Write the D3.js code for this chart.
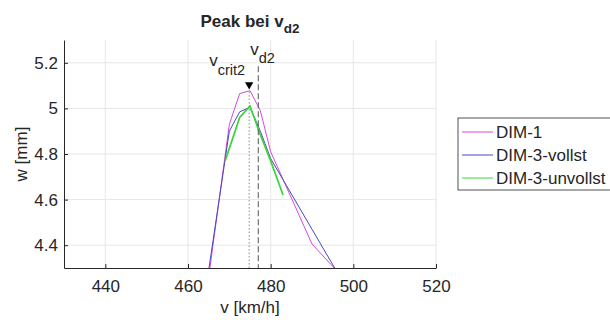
<!DOCTYPE html>
<html>
<head>
<meta charset="utf-8">
<script src="https://cdn.jsdelivr.net/npm/d3@7"></script>
<style>
  body { margin: 0; background: #fff; overflow: hidden; }
  text { font-family: "Liberation Sans", Arial, sans-serif; fill: #262626; }
</style>
</head>
<body>
<div id="chart"></div>
<script>
// data
var vDim1 = [465, 470, 472.5, 475, 477.5, 480, 490, 500];
var wDim1 = [4.26, 4.93, 5.065, 5.078, 4.99, 4.81, 4.405, 4.21];
var vDim3v = [465, 470, 472.5, 475, 477.5, 480, 490, 500];
var wDim3v = [4.29, 4.90, 4.985, 5.005, 4.90, 4.78, 4.47, 4.16];
var vDim3u = [469, 472.5, 475, 477.5, 480, 483];
var wDim3u = [4.77, 4.96, 5.01, 4.885, 4.77, 4.62];
var seriesNames = ["DIM-1", "DIM-3-vollst", "DIM-3-unvollst"];
var seriesColors = ["#dc46dc", "#4848c4", "#38d438"];
var xTicks = [440, 460, 480, 500, 520];
var yTicks = [4.4, 4.6, 4.8, 5, 5.2];
var vCrit2 = 474.8, wCrit2 = 5.078;
var vD2 = 477, wD2Top = 5.185;

var margin = { top: 40, right: 174, bottom: 52, left: 64 },
    width = 610 - margin.left - margin.right,
    height = 320 - margin.top - margin.bottom;

var x = d3.scaleLinear().domain([430, 520]).range([0, width]);
var y = d3.scaleLinear().domain([4.3, 5.3]).range([height, 0]);

var svg = d3.select("#chart").append("svg")
    .attr("width", 610)
    .attr("height", 320);

var g = svg.append("g")
    .attr("transform", "translate(" + margin.left + "," + margin.top + ")");

g.append("clipPath").attr("id", "clip")
  .append("rect").attr("width", width).attr("height", height);

// grid
g.selectAll(".gx").data(xTicks).enter().append("line")
    .attr("x1", d => x(d)).attr("x2", d => x(d))
    .attr("y1", 0).attr("y2", height)
    .attr("stroke", "#e6e6e6");
g.selectAll(".gy").data(yTicks).enter().append("line")
    .attr("x1", 0).attr("x2", width)
    .attr("y1", d => y(d)).attr("y2", d => y(d))
    .attr("stroke", "#e6e6e6");

// axes
var xAxis = g.append("g")
    .attr("transform", "translate(0," + height + ")")
    .call(d3.axisBottom(x).tickValues(xTicks).tickSizeInner(-4).tickSizeOuter(0).tickPadding(12));
var yAxis = g.append("g")
    .call(d3.axisLeft(y).tickValues(yTicks).tickFormat(d3.format("")).tickSizeInner(-4).tickSizeOuter(0).tickPadding(6));
[xAxis, yAxis].forEach(function (a) {
  a.selectAll("path,line").attr("stroke", "#262626");
  a.selectAll("text").style("font-size", "17px").attr("fill", "#262626");
});

// curves
var line = d3.line().x(d => x(d[0])).y(d => y(d[1]));
var series = [
  { v: vDim1, w: wDim1, width: 1 },
  { v: vDim3v, w: wDim3v, width: 1 },
  { v: vDim3u, w: wDim3u, width: 1.7 }
];
var plot = g.append("g").attr("clip-path", "url(#clip)");
series.forEach(function (s, i) {
  plot.append("path")
      .datum(d3.zip(s.v, s.w))
      .attr("fill", "none")
      .attr("stroke", seriesColors[i])
      .attr("stroke-width", s.width)
      .attr("d", line);
});

// marker lines
g.append("line")
    .attr("x1", x(vCrit2)).attr("x2", x(vCrit2))
    .attr("y1", y(wCrit2) + 1).attr("y2", height)
    .attr("stroke", "#888").attr("stroke-dasharray", "1.5,2");
g.append("line")
    .attr("x1", x(vD2)).attr("x2", x(vD2))
    .attr("y1", y(wD2Top)).attr("y2", height)
    .attr("stroke", "#555").attr("stroke-dasharray", "6,3");

g.append("path")
    .attr("d", d3.symbol(d3.symbolTriangle, 30))
    .attr("transform", "translate(" + x(vCrit2) + "," + (y(wCrit2) - 6) + ") rotate(180)")
    .attr("fill", "#000");

// annotations
var t1 = g.append("text").attr("x", x(vCrit2) - 40).attr("y", 26).style("font-size", "17px");
t1.append("tspan").text("v");
t1.append("tspan").attr("dy", 9).style("font-size", "14.5px").text("crit2");
var t2 = g.append("text").attr("x", x(vD2) - 8).attr("y", 15).style("font-size", "17px");
t2.append("tspan").text("v");
t2.append("tspan").attr("dy", 8).style("font-size", "14.5px").text("d2");

// title
var title = svg.append("text")
    .attr("x", margin.left + width / 2).attr("y", 27)
    .attr("text-anchor", "middle")
    .style("font-size", "17px").style("font-weight", "bold");
title.append("tspan").text("Peak bei v");
title.append("tspan").attr("dy", 6).style("font-size", "13.5px").text("d2");

// axis labels
svg.append("text")
    .attr("x", margin.left + width / 2).attr("y", 313)
    .attr("text-anchor", "middle").style("font-size", "17px")
    .text("v [km/h]");
svg.append("text")
    .attr("transform", "translate(27," + (margin.top + height / 2) + ") rotate(-90)")
    .attr("text-anchor", "middle").style("font-size", "17px")
    .text("w [mm]");

// legend
var legend = svg.append("g").attr("transform", "translate(458,118)");
legend.append("rect")
    .attr("width", 175).attr("height", 72)
    .attr("fill", "#fff").attr("stroke", "#262626").attr("stroke-width", 0.8);
seriesNames.forEach(function (name, i) {
  var yy = 14 + i * 23;
  legend.append("line")
      .attr("x1", 4).attr("x2", 35).attr("y1", yy).attr("y2", yy)
      .attr("stroke", seriesColors[i]).attr("stroke-width", 1);
  legend.append("text")
      .attr("x", 38).attr("y", yy + 6)
      .style("font-size", "17px")
      .text(name);
});
</script>
</body>
</html>
